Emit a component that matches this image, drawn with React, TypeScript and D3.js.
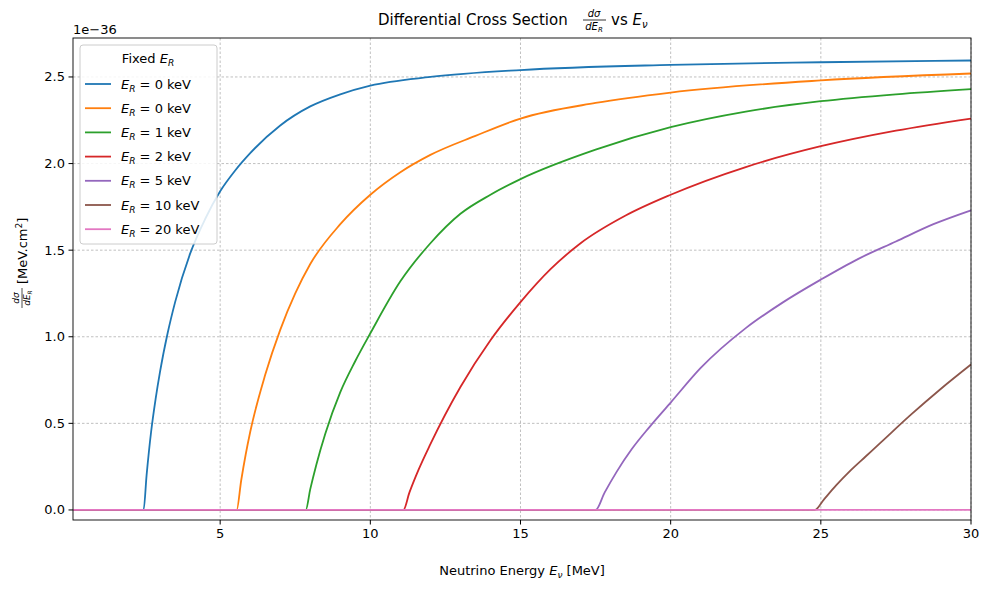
import { useEffect, useRef } from 'react';
import * as d3 from 'd3';

const labels = ['0', '0', '1', '2', '5', '10', '20'];
const colors = ['#1f77b4', '#ff7f0e', '#2ca02c', '#d62728', '#9467bd', '#8c564b', '#e377c2'];
const xTicks = [5, 10, 15, 20, 25, 30];
const yTicks = [0, 0.5, 1, 1.5, 2, 2.5];

// [E_nu MeV, dσ/dE_R in 1e-36]
const blue = [[0.1, 0], [2.45, 0], [2.55, 0.2], [2.7, 0.45], [2.85, 0.64], [3, 0.8], [3.25, 1.02], [3.5, 1.2], [4, 1.48], [4.5, 1.68], [5, 1.84], [5.5, 1.96], [6, 2.06], [7, 2.22], [8, 2.33], [9, 2.4], [10, 2.45], [12, 2.5], [15, 2.54], [20, 2.57], [25, 2.585], [30, 2.595]];
const orange = [[0.1, 0], [5.55, 0], [5.7, 0.17], [5.85, 0.32], [6, 0.45], [6.5, 0.78], [7, 1.04], [7.5, 1.25], [8, 1.42], [9, 1.65], [10, 1.82], [11, 1.95], [12, 2.05], [13.5, 2.16], [15, 2.26], [17.5, 2.35], [20, 2.41], [25, 2.48], [30, 2.52]];
const green = [[0.1, 0], [7.85, 0], [8.0, 0.12], [8.2, 0.26], [8.5, 0.44], [9, 0.68], [9.5, 0.86], [10, 1.02], [11, 1.32], [12, 1.54], [13, 1.71], [14, 1.82], [15, 1.91], [17.5, 2.08], [20, 2.21], [22.5, 2.3], [25, 2.36], [27.5, 2.4], [30, 2.43]];
const red = [[0.1, 0], [11.1, 0], [11.3, 0.1], [11.6, 0.23], [12, 0.38], [13, 0.71], [14, 0.98], [15, 1.2], [16, 1.39], [17, 1.54], [18.5, 1.7], [20, 1.82], [22.5, 1.98], [25, 2.1], [27.5, 2.19], [30, 2.26]];
const purple = [[0.1, 0], [17.5, 0], [17.8, 0.1], [18.2, 0.22], [18.7, 0.35], [19.3, 0.48], [20, 0.62], [21, 0.82], [22.5, 1.05], [23.75, 1.2], [25, 1.33], [26.25, 1.45], [27.5, 1.55], [28.75, 1.65], [30, 1.73]];
const brown = [[0.1, 0], [24.8, 0], [25.1, 0.06], [25.5, 0.14], [26, 0.23], [26.5, 0.31], [27, 0.39], [28, 0.55], [29, 0.7], [30, 0.84]];
const pink = [[0.1, 0], [30, 0]];
const series = [blue, orange, green, red, purple, brown, pink];

export default function App() {
  const ref = useRef<SVGSVGElement | null>(null);
  useEffect(() => {
    const svg = d3.select(ref.current);
    svg.selectAll('*').remove();
    const m = { left: 73, right: 971, top: 38, bottom: 520 };
    const x = d3.scaleLinear().domain([0.1, 30]).range([m.left, m.right]);
    const y = d3.scaleLinear().domain([-0.058, 2.725]).range([m.bottom, m.top]);
    const font = 'DejaVu Sans, sans-serif';
    const g = svg.append('g').attr('font-family', font);

    xTicks.forEach((t) => {
      g.append('line').attr('x1', x(t)).attr('x2', x(t)).attr('y1', m.top).attr('y2', m.bottom)
        .attr('stroke', '#b0b0b0').attr('stroke-width', 0.8).attr('stroke-dasharray', '2.5,2');
      g.append('line').attr('x1', x(t)).attr('x2', x(t)).attr('y1', m.bottom).attr('y2', m.bottom + 4.5).attr('stroke', '#000');
      g.append('text').attr('x', x(t)).attr('y', m.bottom + 18).attr('text-anchor', 'middle').attr('font-size', 13).text(t);
    });
    yTicks.forEach((t) => {
      g.append('line').attr('x1', m.left).attr('x2', m.right).attr('y1', y(t)).attr('y2', y(t))
        .attr('stroke', '#b0b0b0').attr('stroke-width', 0.8).attr('stroke-dasharray', '2.5,2');
      g.append('line').attr('x1', m.left - 4.5).attr('x2', m.left).attr('y1', y(t)).attr('y2', y(t)).attr('stroke', '#000');
      g.append('text').attr('x', m.left - 8).attr('y', y(t) + 4.5).attr('text-anchor', 'end').attr('font-size', 13).text(t.toFixed(1));
    });

    const line = d3.line<number[]>().x((d) => x(d[0])).y((d) => y(d[1])).curve(d3.curveMonotoneX);
    series.forEach((s, i) => {
      g.append('path').attr('d', line(s)).attr('fill', 'none').attr('stroke', colors[i]).attr('stroke-width', 1.8);
    });

    g.append('rect').attr('x', m.left).attr('y', m.top).attr('width', m.right - m.left).attr('height', m.bottom - m.top)
      .attr('fill', 'none').attr('stroke', '#000').attr('stroke-width', 0.9);

    g.append('text').attr('x', m.left).attr('y', 34).attr('font-size', 13).text('1e−36');

    // legend
    const lg = g.append('g');
    lg.append('rect').attr('x', 80).attr('y', 45).attr('width', 137).attr('height', 199).attr('rx', 3)
      .attr('fill', '#fff').attr('fill-opacity', 0.85).attr('stroke', '#ccc');
    const lt = lg.append('text').attr('x', 148).attr('y', 63).attr('text-anchor', 'middle').attr('font-size', 13);
    lt.append('tspan').text('Fixed ');
    lt.append('tspan').attr('font-style', 'italic').text('E');
    lt.append('tspan').attr('font-style', 'italic').attr('font-size', 9).attr('dy', 3).text('R');
    labels.forEach((l, i) => {
      const yy = 84 + i * 24.2;
      lg.append('line').attr('x1', 85).attr('x2', 111).attr('y1', yy).attr('y2', yy).attr('stroke', colors[i]).attr('stroke-width', 1.8);
      const t = lg.append('text').attr('x', 121).attr('y', yy + 4.5).attr('font-size', 13);
      t.append('tspan').attr('font-style', 'italic').text('E');
      t.append('tspan').attr('font-style', 'italic').attr('font-size', 9).attr('dy', 3).text('R');
      t.append('tspan').attr('dy', -3).text(` = ${l} keV`);
    });

    // x label
    const xl = g.append('text').attr('x', 522).attr('y', 575).attr('text-anchor', 'middle').attr('font-size', 13);
    xl.append('tspan').text('Neutrino Energy ');
    xl.append('tspan').attr('font-style', 'italic').text('E');
    xl.append('tspan').attr('font-style', 'italic').attr('font-size', 9).attr('dy', 3).text('ν');
    xl.append('tspan').attr('dy', -3).text(' [MeV]');

    // title
    g.append('text').attr('x', 378).attr('y', 25).attr('font-size', 15).text('Differential Cross Section');
    g.append('text').attr('x', 594).attr('y', 17).attr('text-anchor', 'middle').attr('font-size', 10).attr('font-style', 'italic').text('dσ');
    g.append('line').attr('x1', 583).attr('x2', 606).attr('y1', 20).attr('y2', 20).attr('stroke', '#000').attr('stroke-width', 0.8);
    const den = g.append('text').attr('x', 594).attr('y', 30).attr('text-anchor', 'middle').attr('font-size', 10).attr('font-style', 'italic');
    den.append('tspan').text('dE');
    den.append('tspan').attr('font-size', 7).attr('dy', 2).text('R');
    const tv = g.append('text').attr('x', 611).attr('y', 25).attr('font-size', 15);
    tv.append('tspan').text('vs ');
    tv.append('tspan').attr('font-style', 'italic').text('E');
    tv.append('tspan').attr('font-style', 'italic').attr('font-size', 10).attr('dy', 3).text('ν');

    // y label rotated
    const yl = g.append('g').attr('transform', 'translate(22,286) rotate(-90)');
    yl.append('text').attr('x', -12).attr('y', -3).attr('text-anchor', 'middle').attr('font-size', 9).attr('font-style', 'italic').text('dσ');
    yl.append('line').attr('x1', -22).attr('x2', -2).attr('y1', 0).attr('y2', 0).attr('stroke', '#000').attr('stroke-width', 0.7);
    const yd = yl.append('text').attr('x', -12).attr('y', 8).attr('text-anchor', 'middle').attr('font-size', 9).attr('font-style', 'italic');
    yd.append('tspan').text('dE');
    yd.append('tspan').attr('font-size', 6).attr('dy', 2).text('R');
    const yr = yl.append('text').attr('x', 2).attr('y', 4.5).attr('font-size', 13);
    yr.append('tspan').text('[MeV.cm');
    yr.append('tspan').attr('font-size', 9).attr('dy', -5).text('2');
    yr.append('tspan').attr('dy', 5).text(']');
  }, []);
  return <svg ref={ref} width={989} height={589} style={{ position: 'absolute', left: 0, top: 0, background: '#fff' }} />;
}
